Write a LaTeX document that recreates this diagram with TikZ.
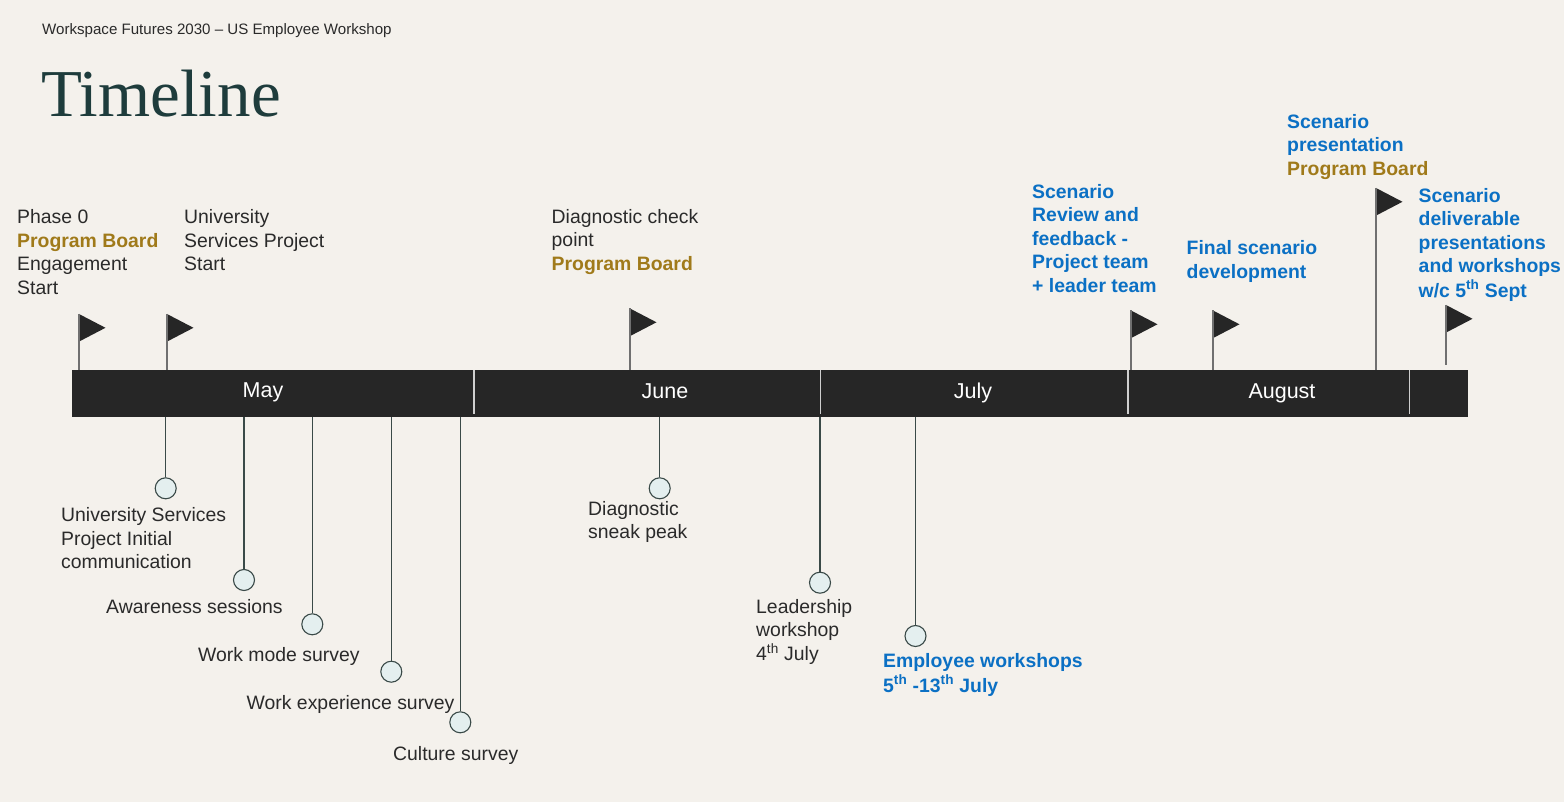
\documentclass[tikz,border=0pt]{standalone}
\usepackage{fontspec}
\setmainfont{Liberation Sans}
\newfontfamily\titlefont{Liberation Serif}
\definecolor{bgc}{HTML}{F4F1EC}
\definecolor{txt}{HTML}{2A2A2A}
\definecolor{gold}{HTML}{A07A1A}
\definecolor{blu}{HTML}{0B70C4}
\definecolor{ttl}{HTML}{1E3C3C}
\definecolor{barc}{HTML}{262626}
\definecolor{pole}{HTML}{707070}
\definecolor{sep}{HTML}{CFCFCF}
\definecolor{cfill}{HTML}{E4EFEF}
\definecolor{cline}{HTML}{3A4A48}
\newcommand{\blk}[1]{\begin{tabular}[t]{@{}l@{}}#1\end{tabular}}
\newcommand{\pb}{\textcolor{gold}{\bfseries Program Board}}
\begin{document}
\begin{tikzpicture}[x=1pt,y=-1pt,
  lbl/.style={anchor=base west,inner sep=0,text=txt,font=\fontsize{19.4}{23.5}\selectfont},
  bl/.style={lbl,text=blu,font=\fontsize{19.4}{23.5}\selectfont\bfseries},
  month/.style={anchor=base,inner sep=0,text=white,font=\fontsize{21.5}{25}\selectfont},
  dot/.style={circle,draw=cline,fill=cfill,line width=1.1pt,minimum size=21pt,inner sep=0},
  stem/.style={draw=cline,line width=1.2pt},
  polel/.style={draw=pole,line width=1.3pt},
  flagf/.style={fill=barc},
  sepl/.style={draw=sep,line width=1.3pt}]
\fill[bgc] (0,0) rectangle (1564,802);
\useasboundingbox (0,0) rectangle (1564,802);
% header
\node[anchor=base west,inner sep=0,text=txt,font=\fontsize{15.1}{18}\selectfont] (hdr) at (42,34.5) {Workspace Futures 2030 -- US Employee Workshop};
\node[anchor=base west,inner sep=0,text=ttl,font=\titlefont\fontsize{67}{70}\selectfont] (title) at (41,117) {Timeline};
% bar
\node[fill=barc,anchor=north west,inner sep=0,minimum width=1396pt,minimum height=47pt] (bar) at (72,369.5) {};
\foreach \sx [count=\i] in {474,820.5,1128,1409.5}{
  \coordinate (s\i) at (\sx,370);
  \draw[sepl] (s\i) -- ++(0,44);
}
\node[month] (may) at (263,397) {May};
\node[month] (jun) at (665,398) {June};
\node[month] (jul) at (973,398) {July};
\node[month] (aug) at (1282,398) {August};
% flags
\foreach \fx/\fy/\n in {79/314/1,167/314/2,630/308.5/3,1131/310.5/4,1213/310.5/5,1376/188/6,1446/305/7}{
  \coordinate (f\n) at (\fx,\fy);
  \fill[flagf] (f\n) -- ++(26.5,13.8) -- ++(-26.5,13.8) -- cycle;
}
\foreach \n in {1,2,3,4,5,6}{\draw[polel] (f\n) -- (f\n |- bar.north);}
\draw[polel] (f7) -- ++(0,60);
% top labels
\node[lbl] (t1) at (17,224) {\blk{Phase 0\\ \pb\\ Engagement\\ Start}};
\node[lbl] (t2) at (184,224) {\blk{University\\ Services Project\\ Start}};
\node[lbl] (t3) at (551.5,223.5) {\blk{Diagnostic check\\ point\\ \pb}};
\node[bl] (t4) at (1032,198.5) {\blk{Scenario\\ Review and\\ feedback -\\ Project team\\ + leader team}};
\node[bl] (t5) at (1186.5,255) {\blk{Final scenario\\ development}};
\node[bl] (t6) at (1287,128.3) {\blk{Scenario\\ presentation\\ \pb}};
\node[bl] (t7) at (1418.5,202.5) {\blk{Scenario\\ deliverable\\ presentations\\ and workshops\\ w/c 5\textsuperscript{th} Sept}};
% dots
\node[dot] (d1) at (165.7,488.3) {};
\node[dot] (d2) at (244,580) {};
\node[dot] (d3) at (312.3,624.3) {};
\node[dot] (d4) at (391.3,671.7) {};
\node[dot] (d5) at (460.3,722.3) {};
\node[dot] (d6) at (659.7,488.3) {};
\node[dot] (d7) at (820,582.7) {};
\node[dot] (d8) at (915.5,636) {};
\foreach \n in {1,...,8}{\draw[stem] (d\n.north) -- (d\n.north |- bar.south);}
% bottom labels
\node[lbl] (b1) at (61,521.7) {\blk{University Services\\ Project Initial\\ communication}};
\node[lbl] (b2) at (106,613) {Awareness sessions};
\node[lbl] (b3) at (198,661.7) {Work mode survey};
\node[lbl] (b4) at (246.5,709) {Work experience survey};
\node[lbl] (b5) at (393,760) {Culture survey};
\node[lbl] (b6) at (588,515) {\blk{Diagnostic\\ sneak peak}};
\node[lbl] (b7) at (756,613) {\blk{Leadership\\ workshop\\ 4\textsuperscript{th} July}};
\node[bl] (b8) at (883,667.7) {\blk{Employee workshops\\ 5\textsuperscript{th} -13\textsuperscript{th} July}};
\end{tikzpicture}
\end{document}
